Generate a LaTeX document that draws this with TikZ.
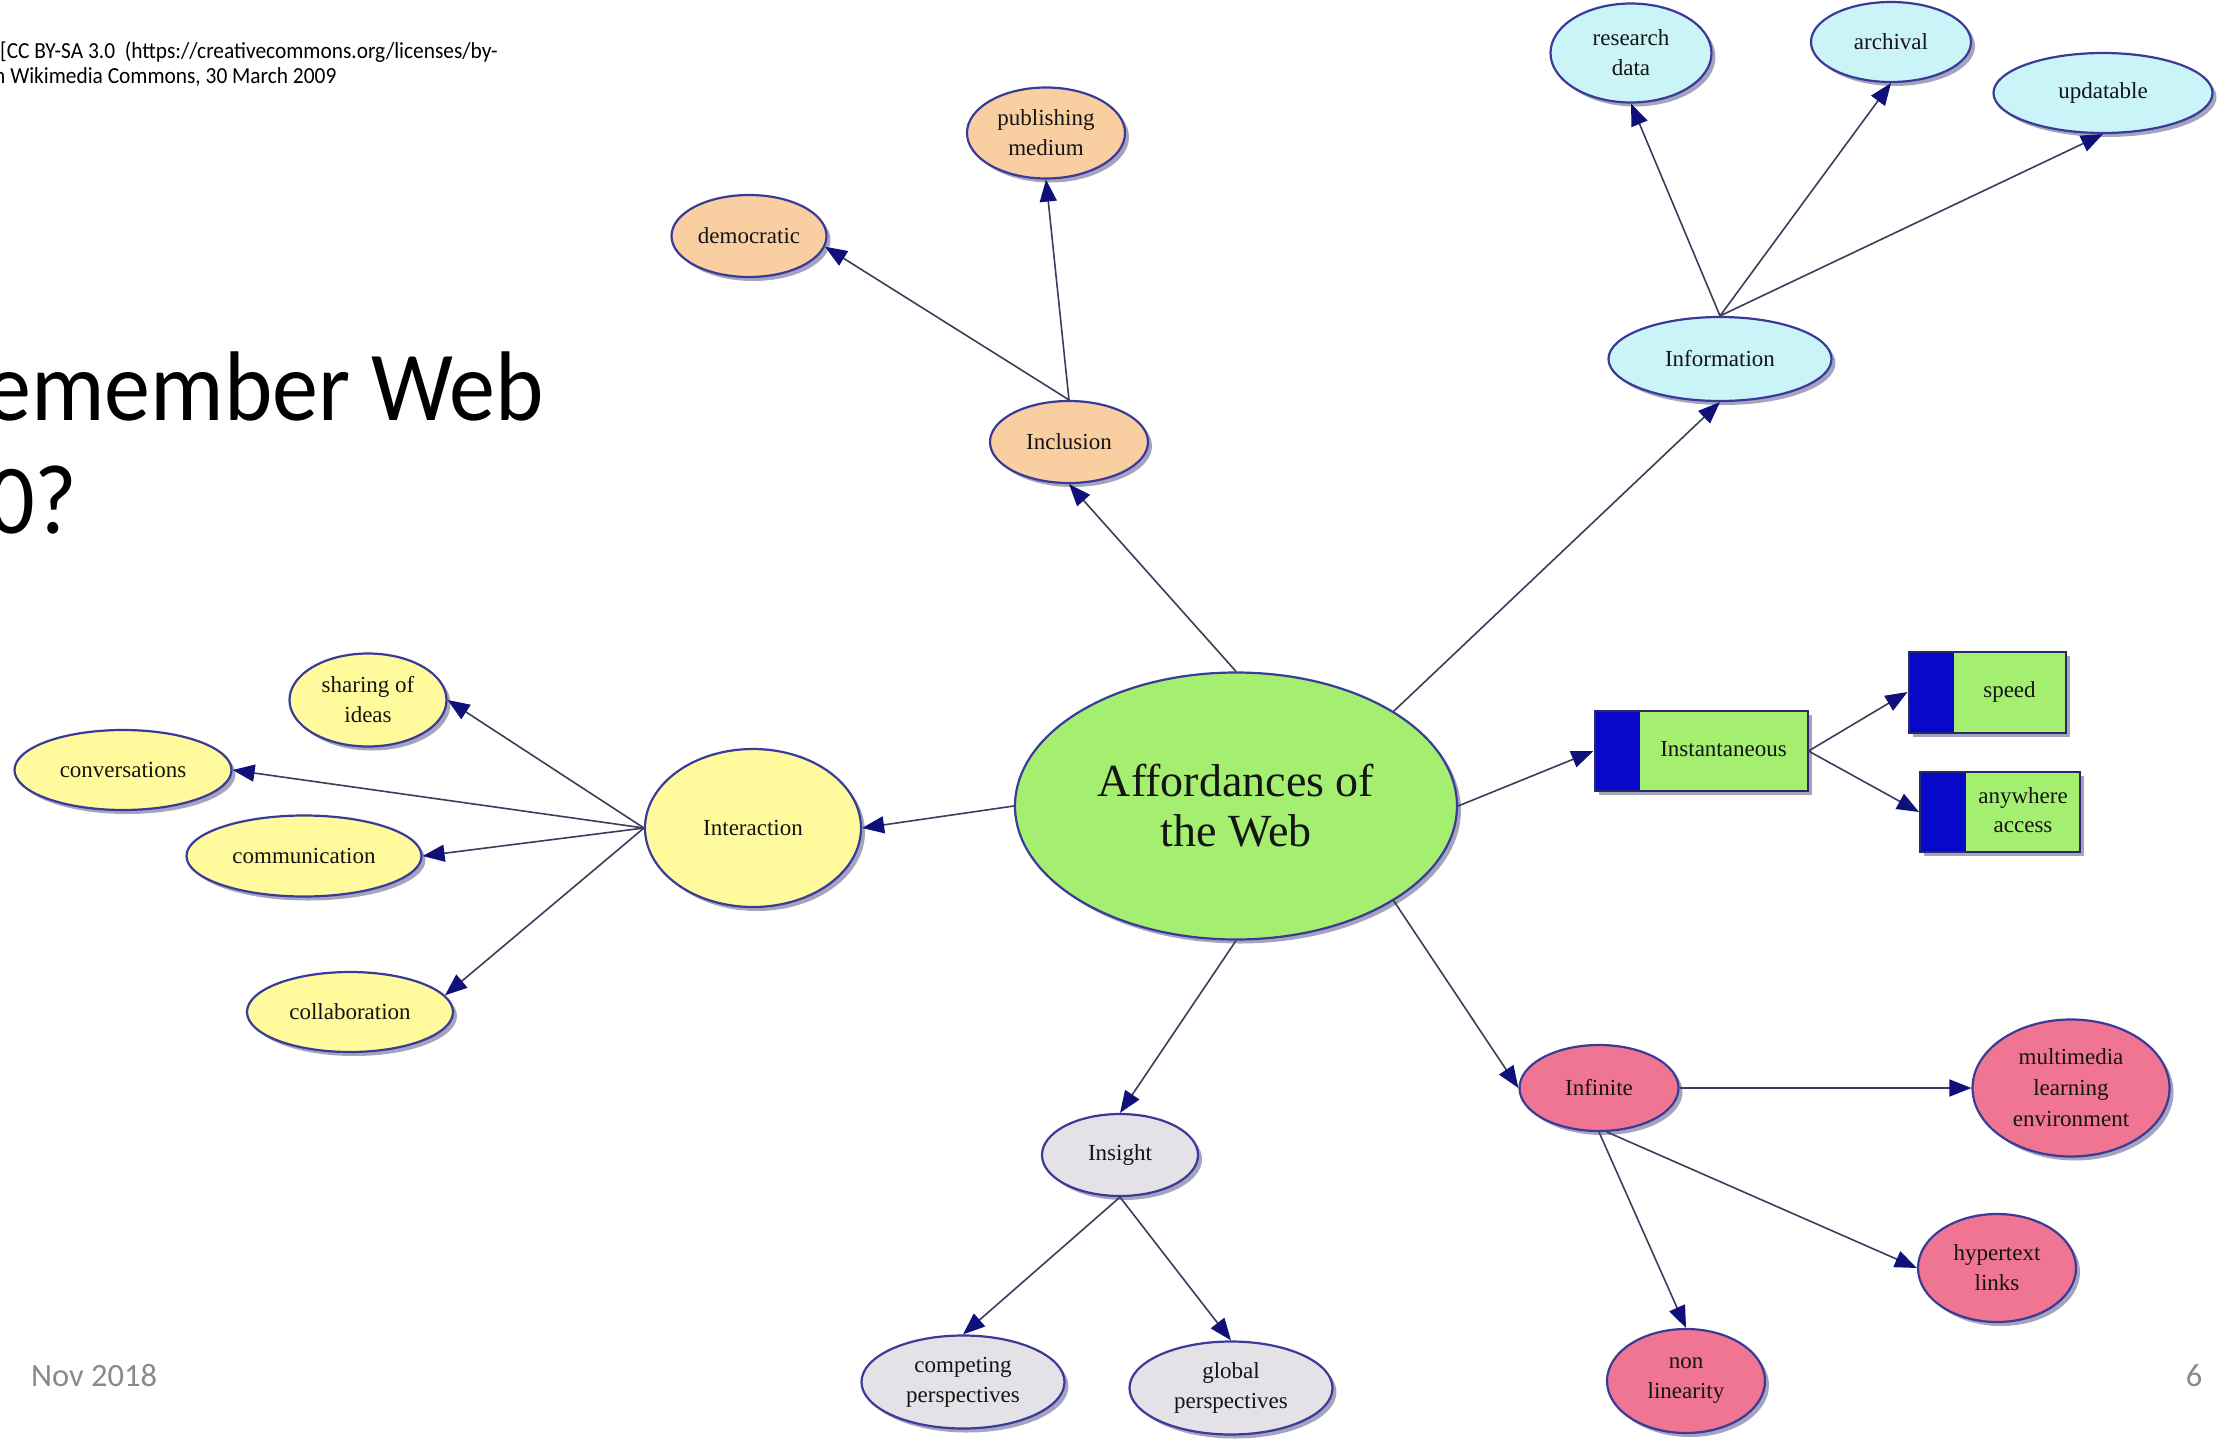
\documentclass[tikz,border=0pt]{standalone}
\usepackage{fontspec}
\setmainfont{Liberation Serif}
\newfontfamily\slidefont[FakeStretch=0.93]{Carlito}
\newfontfamily\footfont{Carlito}
\usetikzlibrary{shapes.geometric,arrows.meta,shadows}

\definecolor{peach}{HTML}{F9CFA2}
\definecolor{skycyan}{HTML}{CBF4F8}
\definecolor{paleyellow}{HTML}{FFFB9C}
\definecolor{palegray}{HTML}{E4E2E6}
\definecolor{rosepink}{HTML}{EF7592}
\definecolor{limegreen}{HTML}{A4EE70}
\definecolor{bandblue}{HTML}{0808C8}
\definecolor{rimblue}{HTML}{3A3A98}
\definecolor{shade}{HTML}{8E8EB0}
\definecolor{linkgray}{HTML}{3C3C5C}
\definecolor{tipnavy}{HTML}{10107A}
\definecolor{inkdark}{HTML}{141414}
\definecolor{footgray}{HTML}{8A8A8A}

\newcommand\bandtext[2]{\hspace*{#1}\begin{tabular}{@{}c@{}}#2\end{tabular}}

\begin{document}
\begin{tikzpicture}[x=1pt,y=-1pt,
  bub/.style={ellipse, draw=rimblue, line width=2.2pt, inner sep=0pt,
    font=\fontsize{23}{30}\selectfont, text=inkdark, align=center,
    drop shadow={shadow xshift=4pt, shadow yshift=-4pt, fill=shade, opacity=0.8}},
  bandbox/.style={rectangle, draw=rimblue!70!black, line width=2pt, fill=limegreen,
    inner sep=0pt, font=\fontsize{23}{29}\selectfont, text=inkdark,
    drop shadow={shadow xshift=4pt, shadow yshift=-4pt, fill=shade, opacity=0.8},
    path picture={\fill[bandblue] (path picture bounding box.south west)
      rectangle ([xshift=#1]path picture bounding box.north west);}},
  link/.style={draw=linkgray, line width=1.6pt,
    -{Triangle[length=22pt,width=17pt,color=tipnavy]}},
  slidetext/.style={inner sep=0pt, anchor=base west, text=black}
]
\useasboundingbox (0,0) rectangle (2236,1440);
\fill[white] (0,0) rectangle (2236,1440);
\clip (0,0) rectangle (2236,1440);

% slide text
\node[slidetext, font=\slidefont\fontsize{23}{23}\selectfont] (cr1) at (0,58)
  {[CC BY-SA 3.0\ \ (https://creativecommons.org/licenses/by-};
\node[slidetext, font=\slidefont\fontsize{23}{23}\selectfont] (cr2) at (-6,83)
  {n Wikimedia Commons, 30 March 2009};
\node[slidetext, font=\slidefont\fontsize{99}{113}\selectfont] (ttl1) at (-15,420) {emember Web};
\node[slidetext, font=\slidefont\fontsize{99}{113}\selectfont] (ttl2) at (-12,533) {0?};
\node[slidetext, text=footgray, font=\footfont\fontsize{32.5}{33}\selectfont] (foot) at (31,1386) {Nov 2018};
\node[inner sep=0pt, anchor=base, text=footgray, font=\footfont\fontsize{32.5}{33}\selectfont] (pgno) at (2194,1386) {6};

% central idea
\node[bub, fill=limegreen, minimum width=442pt, minimum height=267pt,
  font=\fontsize{46}{50}\selectfont] (core) at (1236,806) {Affordances of\\the Web};

% inclusion branch
\node[bub, fill=peach, minimum width=158pt, minimum height=82pt] (incl) at (1069,442) {Inclusion};
\node[bub, fill=peach, minimum width=155pt, minimum height=82pt] (dem) at (749,236) {democratic};
\node[bub, fill=peach, minimum width=158pt, minimum height=91pt] (pub) at (1046,133) {publishing\\medium};

% information branch
\node[bub, fill=skycyan, minimum width=223pt, minimum height=84pt] (info) at (1720,359) {Information};
\node[bub, fill=skycyan, minimum width=161pt, minimum height=99pt] (res) at (1631,53) {research\\data};
\node[bub, fill=skycyan, minimum width=160pt, minimum height=80pt] (arch) at (1891,42) {archival};
\node[bub, fill=skycyan, minimum width=219pt, minimum height=80pt] (upd) at (2103,93) {updatable};

% instantaneous branch
\node[bandbox=45pt, minimum width=213pt, minimum height=80pt] (inst) at (1701,751) {\bandtext{45pt}{Instantaneous}};
\node[bandbox=45pt, minimum width=157pt, minimum height=81pt] (speed) at (1987,692) {\bandtext{45pt}{speed}};
\node[bandbox=46pt, minimum width=160pt, minimum height=80pt] (any) at (2000,812) {\bandtext{46pt}{anywhere\\access}};

% infinite branch
\node[bub, fill=rosepink, minimum width=159pt, minimum height=86pt] (inf) at (1599,1088) {Infinite};
\node[bub, fill=rosepink, minimum width=197pt, minimum height=137pt,
  font=\fontsize{23}{31}\selectfont] (mm) at (2071,1088) {multimedia\\learning\\environment};
\node[bub, fill=rosepink, minimum width=158pt, minimum height=108pt] (hyp) at (1997,1268) {hypertext\\links};
\node[bub, fill=rosepink, minimum width=158pt, minimum height=104pt] (nonlin) at (1686,1381) {non\\linearity};

% insight branch
\node[bub, fill=palegray, minimum width=156pt, minimum height=82pt] (ins) at (1120,1155) {Insight};
\node[bub, fill=palegray, minimum width=203pt, minimum height=93pt] (comp) at (963,1382) {competing\\perspectives};
\node[bub, fill=palegray, minimum width=203pt, minimum height=93pt] (glob) at (1231,1388) {global\\perspectives};

% interaction branch
\node[bub, fill=paleyellow, minimum width=216pt, minimum height=158pt] (inter) at (753,828) {Interaction};
\node[bub, fill=paleyellow, minimum width=157pt, minimum height=93pt] (share) at (368,700) {sharing of\\ideas};
\node[bub, fill=paleyellow, minimum width=217pt, minimum height=80pt] (conv) at (123,770) {conversations};
\node[bub, fill=paleyellow, minimum width=235pt, minimum height=81pt] (comm) at (304,856) {communication};
\node[bub, fill=paleyellow, minimum width=206pt, minimum height=80pt] (coll) at (350,1012) {collaboration};

% connectors
\draw[link] (core.north) -- (incl.south);
\draw[link] (incl.north) -- (dem.-8);
\draw[link] (incl.north) -- (pub.south);

\draw[link] (core.31) -- (info.south);
\draw[link] (info.north) -- (res.south);
\draw[link] (info.north) -- (arch.south);
\draw[link] (info.north) -- (upd.south);

\draw[link] (core.east) -- (inst.west);
\draw[link] (inst.east) -- (speed.west);
\draw[link] (inst.east) -- (any.west);

\draw[link] (core.-31) -- (inf.west);
\draw[link] (inf.east) -- (mm.west);
\draw[link] (inf.-80) -- (hyp.west);
\draw[link] (inf.south) -- (nonlin.north);

\draw[link] (core.south) -- (ins.north);
\draw[link] (ins.south) -- (comp.north);
\draw[link] (ins.south) -- (glob.north);

\draw[link] (core.west) -- (inter.east);
\draw[link] (inter.west) -- (share.east);
\draw[link] (inter.west) -- (conv.east);
\draw[link] (inter.west) -- (comm.east);
\draw[link] (inter.west) -- (coll.10);
\end{tikzpicture}
\end{document}
